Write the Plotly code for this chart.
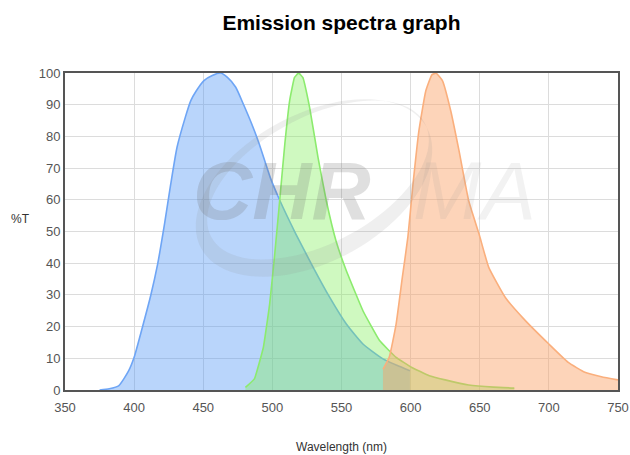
import numpy as np
import plotly.graph_objects as go

# Blue emission spectrum (wavelength nm, %T)
blue_x = [375, 382, 389, 396, 400, 406, 412, 417, 422, 426.5, 431, 437, 441, 445, 450.5,
          456.5, 462.5, 467.5, 473.5, 478.5, 485, 490.5, 498.5, 505.5, 517, 529.5, 541.5,
          553.5, 565.5, 580, 590, 599.5]
blue_y = [0, 0.4, 1.4, 6, 10.3, 19.8, 29.8, 39.7, 52.4, 65, 76.5, 86, 91.3, 94.4, 97.6,
          99.2, 100, 98.6, 95.5, 90.7, 84, 77.6, 67, 59.7, 49.2, 38.7, 29.2,
          20.8, 14.5, 9.8, 7.8, 6.1]

# Green emission spectrum
green_x = [480.5, 487, 493.5, 498, 501.5, 505.5, 509, 512.5, 516, 519, 522, 527, 533, 539,
           546, 553.5, 565.5, 577.5, 589.5, 600.5, 613.5, 625, 642, 660, 675]
green_y = [0.8, 3.5, 13.5, 27, 41.9, 60.8, 77.6, 91.3, 98.6, 100, 98.6, 89, 73.4, 59.7,
           47.1, 37.6, 25, 15.6, 10.3, 7.2, 4.5, 3.2, 1.6, 0.9, 0.6]

# Orange emission spectrum
orange_x = [580, 584.5, 589.5, 594, 598, 601.5, 606, 611, 615.5, 618.5, 623, 629, 635, 642,
            649.5, 656.5, 668.5, 683, 700, 714, 726, 738, 750]
orange_y = [6.5, 10.3, 20.8, 35.5, 48.2, 64, 81.8, 94.4, 99.5, 99.9, 97.6, 88.1, 75.5, 59.7,
            49.2, 38.7, 29.2, 21.9, 14.5, 8.7, 5.6, 4.2, 3.2]

x_ticks = [350, 400, 450, 500, 550, 600, 650, 700, 750]
y_ticks = [0, 10, 20, 30, 40, 50, 60, 70, 80, 90, 100]

W, H = 630, 455
ML, MR, MT, MB = 65, 12, 73, 65
PW, PH = W - ML - MR, H - MT - MB


def px_to_paper(px, py):
    return (px - ML) / PW, (H - MB - py) / PH


fig = go.Figure()
series = [
    (blue_x, blue_y, "rgb(110,165,245)", "rgba(80,150,245,0.40)", 0.5),
    (green_x, green_y, "rgb(140,235,110)", "rgba(130,240,90,0.38)", 0.3),
    (orange_x, orange_y, "rgb(250,175,125)", "rgba(250,160,100,0.45)", 0.4),
]
for xs, ys, lc, fc, sm in series:
    fig.add_trace(go.Scatter(x=xs, y=ys, mode="lines",
                             line=dict(color=lc, width=1.6, shape="spline", smoothing=sm),
                             fill="tozeroy", fillcolor=fc, hoverinfo="skip", showlegend=False))


# watermark swoosh (decorative crescent ellipse)
def ellipse_pts(cx, cy, a, b, ang_deg, n=90, reverse=False):
    t = np.linspace(0, 2 * np.pi, n, endpoint=False)
    if reverse:
        t = t[::-1]
    ang = np.radians(ang_deg)
    ex, ey = a * np.cos(t), b * np.sin(t)
    xs = cx + ex * np.cos(ang) + ey * np.sin(ang)
    ys = cy - ex * np.sin(ang) + ey * np.cos(ang)
    return [px_to_paper(x, y) for x, y in zip(xs, ys)]


outer = ellipse_pts(314, 188, 128, 74, 28)
inner = ellipse_pts(318, 180, 121, 63, 28, reverse=True)
path = "M " + " L ".join(f"{x:.4f},{y:.4f}" for x, y in outer) + " Z "
path += "M " + " L ".join(f"{x:.4f},{y:.4f}" for x, y in inner) + " Z"
fig.add_shape(type="path", path=path, xref="paper", yref="paper",
              fillcolor="rgba(140,140,140,0.14)", line=dict(width=0), layer="above")

cx, cy = px_to_paper(282, 190)
fig.add_annotation(text="CHR", x=cx, y=cy, xref="paper", yref="paper",
                   xanchor="center", yanchor="middle", showarrow=False,
                   font=dict(family="Liberation Sans", size=82, weight="bold", style="italic",
                             color="rgba(110,110,110,0.22)"))
mx, my = px_to_paper(474, 190)
fig.add_annotation(text="MA", x=mx, y=my, xref="paper", yref="paper",
                   xanchor="center", yanchor="middle", showarrow=False,
                   font=dict(family="Liberation Sans", size=82, style="italic",
                             color="rgba(150,150,150,0.12)"))

# axis titles
tx, ty = px_to_paper(20, 219)
fig.add_annotation(text="%T", x=tx, y=ty, xref="paper", yref="paper", xanchor="center",
                   yanchor="middle", showarrow=False, font=dict(size=12, color="#333"))
wx, wy = px_to_paper(341, 447)
fig.add_annotation(text="Wavelength (nm)", x=wx, y=wy, xref="paper", yref="paper",
                   xanchor="center", yanchor="middle", showarrow=False,
                   font=dict(size=12, color="#333"))

fig.update_layout(
    width=W, height=H,
    margin=dict(l=ML, r=MR, t=MT, b=MB),
    paper_bgcolor="white", plot_bgcolor="white",
    title=dict(text="<b>Emission spectra graph</b>", x=0.542, xanchor="center", y=0.951,
               yanchor="middle", font=dict(family="Liberation Sans", size=21, color="black")),
    font=dict(family="Liberation Sans", color="#555"),
    xaxis=dict(range=[350, 750], tickvals=x_ticks, showgrid=True, gridcolor="#dcdcdc", gridwidth=1,
               showline=True, linecolor="#555", linewidth=2, mirror=True, zeroline=False,
               ticks="", tickfont=dict(size=13, color="#555"), automargin=False,
               ticklabelstandoff=4),
    yaxis=dict(range=[0, 100], tickvals=y_ticks, showgrid=True, gridcolor="#dcdcdc", gridwidth=1,
               showline=True, linecolor="#555", linewidth=2, mirror=True, zeroline=False,
               ticks="", tickfont=dict(size=13, color="#555"), automargin=False),
)

fig.write_html("out.html")
